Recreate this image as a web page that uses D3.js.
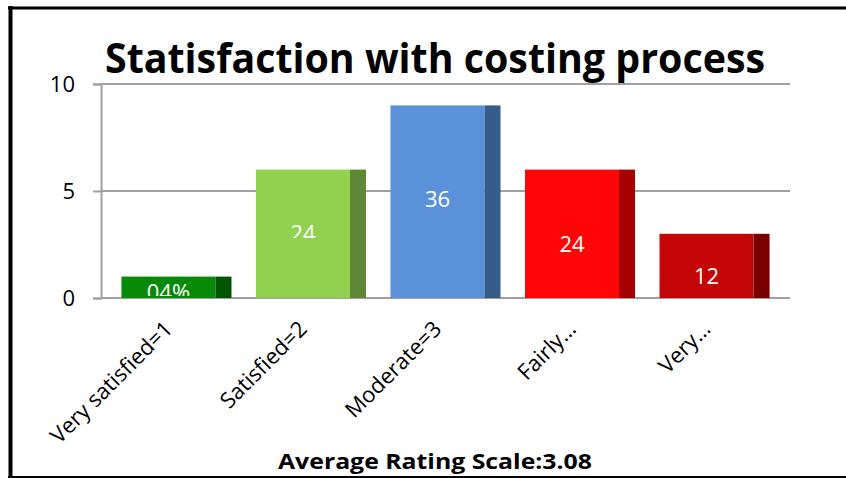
<!DOCTYPE html>
<html>
<head>
<meta charset="utf-8">
<script src="https://cdn.jsdelivr.net/npm/d3@7"></script>
<style>
  body { margin: 0; background: #fff; }
  svg { display: block; }
  text { font-family: "Open Sans", sans-serif; }
</style>
</head>
<body>
<div id="chart"></div>
<script>
// chart data
const categories = ["Very satisfied=1", "Satisfied=2", "Moderate=3", "Fairly…", "Very…"];
const counts = [1, 6, 9, 6, 3];
const valueLabels = ["04%", "24", "36", "24", "12"];
const yTicks = [0, 5, 10];
const frontColors = ["#078a07", "#92d050", "#5b91d9", "#ff0505", "#c40606"];
const sideColors = ["#015501", "#5f8836", "#365d8a", "#a40000", "#7a0000"];

const titleText = "Statisfaction with costing process";
const footerText = "Average Rating Scale:3.08";

const width = 846, height = 478;
const margin = { top: 84, right: 56, bottom: 180, left: 101 };
const depth = 16;
// label nudges relative to bar middle, and where Excel cut them off
const labelShift = [5, -1, -3, 10, 10];
const labelClip = [296, 238, null, null, null];

const svg = d3.select("#chart").append("svg")
    .attr("width", width)
    .attr("height", height);

let x = d3.scaleBand()
    .domain(categories)
    .range([margin.left, width - margin.right])
    .paddingInner(0.182)
    .paddingOuter(0.152);

let y = d3.scaleLinear()
    .domain([0, 10])
    .range([height - margin.bottom, margin.top]);

// frame
svg.append("line").attr("x1", 10.5).attr("x2", 10.5).attr("y1", 6).attr("y2", 478)
    .attr("stroke", "#000").attr("stroke-width", 4);
svg.append("line").attr("x1", 8).attr("x2", 846).attr("y1", 8).attr("y2", 8)
    .attr("stroke", "#000").attr("stroke-width", 3);
svg.append("line").attr("x1", 8).attr("x2", 846).attr("y1", 477).attr("y2", 477)
    .attr("stroke", "#000").attr("stroke-width", 2);

// gridlines
svg.append("g").selectAll("line")
    .data(yTicks)
    .join("line")
    .attr("x1", margin.left)
    .attr("x2", 790)
    .attr("y1", d => y(d))
    .attr("y2", d => y(d))
    .attr("stroke", "#a0a0a0")
    .attr("stroke-width", 2);

// y axis
let yAxis = d3.axisLeft(y).tickValues(yTicks).tickSize(8).tickPadding(18);
let yAxisG = svg.append("g")
    .attr("transform", `translate(${margin.left},0)`)
    .call(yAxis);
yAxisG.select(".domain").attr("stroke", "#a0a0a0").attr("stroke-width", 2);
yAxisG.selectAll(".tick line").attr("stroke", "#a0a0a0").attr("stroke-width", 2);
yAxisG.selectAll(".tick text")
    .attr("fill", "#000")
    .style("font-size", "22px")
    .style("font-family", "'Open Sans', sans-serif");

// bars
let bw = x.bandwidth();
let bars = svg.append("g").selectAll("g")
    .data(categories)
    .join("g");

bars.append("rect")
    .attr("x", d => x(d))
    .attr("y", (d, i) => y(counts[i]))
    .attr("width", bw - depth)
    .attr("height", (d, i) => y(0) - y(counts[i]))
    .attr("fill", (d, i) => frontColors[i]);

bars.append("rect")
    .attr("x", d => x(d) + bw - depth)
    .attr("y", (d, i) => y(counts[i]))
    .attr("width", depth)
    .attr("height", (d, i) => y(0) - y(counts[i]))
    .attr("fill", (d, i) => sideColors[i]);

// clip paths for the cut-off labels
let defs = svg.append("defs");
categories.forEach((d, i) => {
    if (labelClip[i] == null) return;
    defs.append("clipPath").attr("id", "clip" + i)
        .append("rect")
        .attr("x", x(d)).attr("y", 0)
        .attr("width", bw).attr("height", labelClip[i]);
});

bars.append("text")
    .attr("x", d => x(d) + (bw - depth) / 2)
    .attr("y", (d, i) => (y(counts[i]) + y(0)) / 2 + labelShift[i])
    .attr("dy", "0.36em")
    .attr("text-anchor", "middle")
    .attr("fill", "#fff")
    .style("font-size", "22px")
    .attr("clip-path", (d, i) => labelClip[i] == null ? null : `url(#clip${i})`)
    .text((d, i) => valueLabels[i]);

// x labels, rotated
svg.append("g").selectAll("text")
    .data(categories)
    .join("text")
    .attr("transform", d => `translate(${x(d) + bw / 2 - 8},${y(0) + 27}) rotate(-45)`)
    .attr("text-anchor", "end")
    .attr("dy", "0.35em")
    .attr("fill", "#000")
    .style("font-size", "22px")
    .text(d => d);

// title
svg.append("text")
    .attr("x", 435)
    .attr("y", 73)
    .attr("text-anchor", "middle")
    .attr("textLength", 660)
    .attr("lengthAdjust", "spacingAndGlyphs")
    .style("font-size", "41px")
    .style("font-weight", "bold")
    .attr("fill", "#000")
    .text(titleText);

// footer
svg.append("text")
    .attr("x", 435)
    .attr("y", 469)
    .attr("text-anchor", "middle")
    .attr("textLength", 314)
    .attr("lengthAdjust", "spacingAndGlyphs")
    .style("font-size", "22px")
    .style("font-weight", "bold")
    .attr("fill", "#000")
    .text(footerText);
</script>
</body>
</html>
